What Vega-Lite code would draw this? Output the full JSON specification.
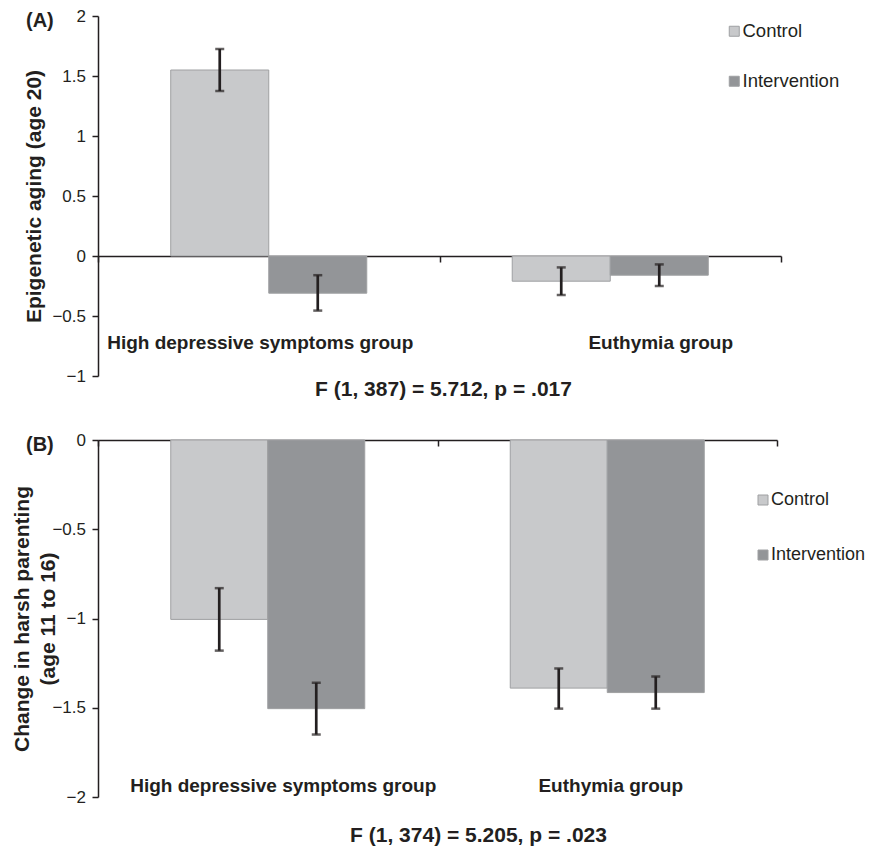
{
  "$schema": "https://vega.github.io/schema/vega-lite/v6.json",
  "background": "white",
  "padding": {"left": 11, "top": 7, "right": 0, "bottom": 5},
  "spacing": 32,
  "config": {
    "font": "Liberation Sans",
    "view": {"stroke": null},
    "axis": {"grid": false, "domainColor": "#231f20", "tickColor": "#231f20", "labelColor": "#231f20", "titleColor": "#231f20", "domainWidth": 1.5, "tickWidth": 1.5}
  },
  "resolve": {
    "scale": {"x": "independent", "y": "independent", "xOffset": "independent", "color": "independent"},
    "legend": {"color": "independent"},
    "axis": {"x": "independent", "y": "independent"}
  },
  "vconcat": [
    {
      "width": 683,
      "height": 360,
      "title": {"text": "(A)", "anchor": "start", "frame": "group", "dx": -72, "dy": 28, "fontSize": 20, "fontWeight": "bold", "color": "#231f20"},
      "data": {"values": [
        {"group": "High depressive symptoms group", "condition": "Control", "value": 1.55, "lo": 1.375, "hi": 1.725},
        {"group": "High depressive symptoms group", "condition": "Intervention", "value": -0.31, "lo": -0.455, "hi": -0.16},
        {"group": "Euthymia group", "condition": "Control", "value": -0.21, "lo": -0.325, "hi": -0.095},
        {"group": "Euthymia group", "condition": "Intervention", "value": -0.16, "lo": -0.25, "hi": -0.07}
      ]},
      "encoding": {
        "x": {
          "field": "group", "type": "nominal",
          "sort": ["High depressive symptoms group", "Euthymia group"],
          "scale": {"paddingInner": 0, "paddingOuter": 0},
          "axis": {
            "orient": "bottom", "offset": -120, "tickBand": "extent", "tickSize": 6,
            "labelAngle": 0, "labelFontSize": 19, "labelFontWeight": "bold", "labelLimit": 0,
            "labelPadding": 71,
            "labelOffset": {"condition": {"test": "datum.value === 'Euthymia group'", "value": 50}, "value": -9},
            "title": "F (1, 387) = 5.712, p = .017", "titleFontSize": 21, "titleFontWeight": "bold",
            "titleX": 345, "titleY": 139, "titleBaseline": "alphabetic", "titleAlign": "center"
          }
        },
        "xOffset": {"field": "condition", "type": "nominal", "sort": ["Control", "Intervention"], "scale": {"paddingInner": 0, "paddingOuter": 0.742}},
        "y": {
          "type": "quantitative",
          "scale": {"domain": [-1, 2], "nice": false},
          "axis": {"values": [-1, -0.5, 0, 0.5, 1, 1.5, 2], "format": "~g", "title": "Epigenetic aging (age 20)", "tickSize": 6, "labelFontSize": 17, "labelPadding": 6.5, "titleFontSize": 21, "titleFontWeight": "bold", "titlePadding": 7}
        }
      },
      "layer": [
        {
          "mark": {"type": "bar", "stroke": "#9fa0a2", "strokeWidth": 1},
          "encoding": {
            "y": {"field": "value"},
            "color": {
              "field": "condition", "type": "nominal",
              "scale": {"domain": ["Control", "Intervention"], "range": ["#c8c9cb", "#939598"]},
              "legend": {"title": null, "orient": "none", "legendX": 627, "legendY": 6, "symbolType": "square", "symbolSize": 100, "symbolStrokeWidth": 1, "labelFontSize": 18.5, "labelColor": "#231f20", "rowPadding": 31, "labelOffset": -1, "padding": 0}
            }
          }
        },
        {
          "mark": {"type": "rule", "strokeWidth": 2.7, "color": "#231f20"},
          "encoding": {"y": {"field": "lo"}, "y2": {"field": "hi"}}
        },
        {
          "mark": {"type": "tick", "size": 9, "thickness": 2.5, "color": "#231f20"},
          "encoding": {"y": {"field": "lo"}}
        },
        {
          "mark": {"type": "tick", "size": 9, "thickness": 2.5, "color": "#231f20"},
          "encoding": {"y": {"field": "hi"}}
        }
      ]
    },
    {
      "width": 679,
      "height": 357,
      "title": {"text": "(B)", "anchor": "start", "frame": "group", "dx": -72, "dy": 28, "fontSize": 20, "fontWeight": "bold", "color": "#231f20"},
      "data": {"values": [
        {"group": "High depressive symptoms group", "condition": "Control", "value": -1.005, "lo": -1.18, "hi": -0.83},
        {"group": "High depressive symptoms group", "condition": "Intervention", "value": -1.505, "lo": -1.65, "hi": -1.36},
        {"group": "Euthymia group", "condition": "Control", "value": -1.39, "lo": -1.505, "hi": -1.28},
        {"group": "Euthymia group", "condition": "Intervention", "value": -1.415, "lo": -1.505, "hi": -1.325}
      ]},
      "encoding": {
        "x": {
          "field": "group", "type": "nominal",
          "sort": ["High depressive symptoms group", "Euthymia group"],
          "scale": {"paddingInner": 0, "paddingOuter": 0},
          "axis": {
            "orient": "bottom", "offset": -357, "tickBand": "extent", "tickSize": 6,
            "labelAngle": 0, "labelFontSize": 19, "labelFontWeight": "bold", "labelLimit": 0,
            "labelPadding": 330,
            "labelOffset": {"condition": {"test": "datum.value === 'Euthymia group'", "value": 3}, "value": 15},
            "title": "F (1, 374) = 5.205, p = .023", "titleFontSize": 21, "titleFontWeight": "bold",
            "titleX": 380, "titleY": 401, "titleBaseline": "alphabetic", "titleAlign": "center"
          }
        },
        "xOffset": {"field": "condition", "type": "nominal", "sort": ["Control", "Intervention"], "scale": {"paddingInner": 0, "paddingOuter": 0.75}},
        "y": {
          "type": "quantitative",
          "scale": {"domain": [-2, 0], "nice": false},
          "axis": {"values": [-2, -1.5, -1, -0.5, 0], "format": "~g", "title": ["Change in harsh parenting", "(age 11 to 16)"], "tickSize": 6, "labelFontSize": 17, "labelPadding": 6.5, "titleFontSize": 21, "titleFontWeight": "bold", "titlePadding": -6.5, "titleLineHeight": 26}
        }
      },
      "layer": [
        {
          "mark": {"type": "bar", "stroke": "#9fa0a2", "strokeWidth": 1},
          "encoding": {
            "y": {"field": "value"},
            "color": {
              "field": "condition", "type": "nominal",
              "scale": {"domain": ["Control", "Intervention"], "range": ["#c8c9cb", "#939598"]},
              "legend": {"title": null, "orient": "none", "legendX": 656, "legendY": 51, "symbolType": "square", "symbolSize": 100, "symbolStrokeWidth": 1, "labelFontSize": 18, "labelColor": "#231f20", "rowPadding": 37, "labelOffset": -1, "padding": 0}
            }
          }
        },
        {
          "mark": {"type": "rule", "strokeWidth": 2.7, "color": "#231f20"},
          "encoding": {"y": {"field": "lo"}, "y2": {"field": "hi"}}
        },
        {
          "mark": {"type": "tick", "size": 9, "thickness": 2.5, "color": "#231f20"},
          "encoding": {"y": {"field": "lo"}}
        },
        {
          "mark": {"type": "tick", "size": 9, "thickness": 2.5, "color": "#231f20"},
          "encoding": {"y": {"field": "hi"}}
        }
      ]
    }
  ]
}
